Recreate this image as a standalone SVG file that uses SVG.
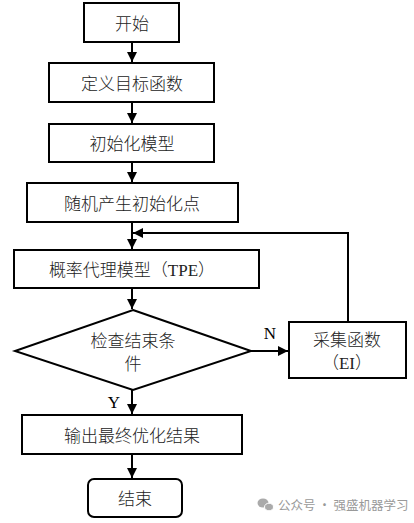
<svg xmlns="http://www.w3.org/2000/svg" width="414" height="523" viewBox="0 0 414 523">
<style>
.b{fill:#fff;stroke:#000;stroke-width:2}
.t{font-family:"Liberation Serif","Noto Sans CJK SC",serif;font-size:17px;font-weight:300;fill:#222;text-anchor:middle}
.l{font-family:"Liberation Serif",serif;font-size:17px;fill:#000;text-anchor:middle}
.c{fill:none;stroke:#000;stroke-width:2}
.w{font-family:"Noto Sans CJK SC",sans-serif;font-size:12.5px;fill:#999}
</style>
<defs>
<marker id="a" viewBox="0 0 10 10" refX="10" refY="5" markerWidth="5" markerHeight="5" orient="auto" markerUnits="strokeWidth">
<path d="M0,0 L10,5 L0,10 Z" fill="#000"/>
</marker>
</defs>
<rect width="414" height="523" fill="#fff"/>
<g id="connectors">
<line class="c" x1="132" y1="42" x2="132" y2="62" marker-end="url(#a)"/>
<line class="c" x1="132" y1="102" x2="132" y2="123" marker-end="url(#a)"/>
<line class="c" x1="132" y1="162" x2="132" y2="182" marker-end="url(#a)"/>
<line class="c" x1="132" y1="222" x2="132" y2="249" marker-end="url(#a)"/>
<line class="c" x1="132" y1="288" x2="132" y2="309" marker-end="url(#a)"/>
<line class="c" x1="251" y1="351" x2="288" y2="351" marker-end="url(#a)"/>
<polyline class="c" points="348,322 348,233 133,233" marker-end="url(#a)"/>
<line class="c" x1="132" y1="390" x2="132" y2="414" marker-end="url(#a)"/>
<line class="c" x1="132" y1="454" x2="132" y2="478" marker-end="url(#a)"/>
<text class="l" x="270" y="339">N</text>
<text class="l" x="114" y="408">Y</text>
</g>
<g id="start"><rect class="b" x="84" y="3" width="95" height="39"/><text class="t" x="132" y="30">开始</text></g>
<g id="define"><rect class="b" x="49" y="63" width="165" height="39"/><text class="t" x="132" y="90">定义目标函数</text></g>
<g id="init"><rect class="b" x="49" y="124" width="165" height="38"/><text class="t" x="132" y="150">初始化模型</text></g>
<g id="random"><rect class="b" x="27" y="183" width="211" height="39"/><text class="t" x="132" y="210">随机产生初始化点</text></g>
<g id="tpe"><rect class="b" x="14" y="250" width="245" height="38"/><text class="t" x="132" y="276">概率代理模型（TPE）</text></g>
<g id="check"><polygon class="b" points="133,310 251,351 133,390 15,351"/><text class="t" x="133" y="347">检查结束条</text><text class="t" x="133" y="370">件</text></g>
<g id="acq"><rect class="b" x="289" y="322" width="117" height="56"/><text class="t" x="347" y="346">采集函数</text><text class="t" x="347" y="369">（EI）</text></g>
<g id="output"><rect class="b" x="22" y="415" width="220" height="39"/><text class="t" x="132" y="442">输出最终优化结果</text></g>
<g id="end"><rect class="b" x="88" y="479" width="94" height="38" rx="6"/><text class="t" x="135" y="505">结束</text></g>
<g id="watermark">
<ellipse cx="263" cy="503" rx="5.5" ry="4.5" fill="#aaa"/>
<ellipse cx="269" cy="507" rx="4.5" ry="3.8" fill="#aaa" stroke="#fff" stroke-width="1"/>
<text class="w" x="278" y="509.5">公众号 · 强盛机器学习</text>
</g>
</svg>
